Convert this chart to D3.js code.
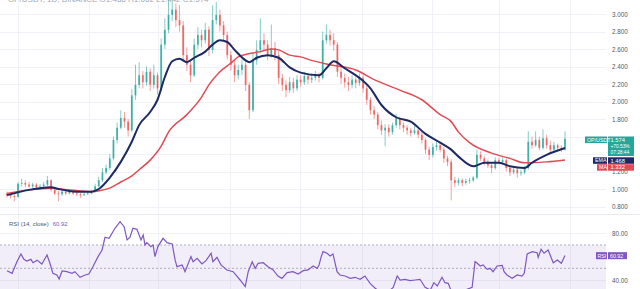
<!DOCTYPE html>
<html lang="en">
<head>
<meta charset="UTF-8">
<title>OP/USDT daily</title>
<script src="https://d3js.org/d3.v7.min.js"></script>
<style>
  body { margin: 0; background: #fff; }
  svg text { font-family: "Liberation Sans", "DejaVu Sans", sans-serif; }
</style>
</head>
<body>
<div id="chart"></div>
<script>
// candle data (daily) - open is taken as the previous close
const firstOpen = 0.95;
const closes = [
  0.93,0.92,0.91,1.06,1.07,1.05,1.03,1.05,1.02,1.03,
  1.05,1.10,0.99,0.95,0.94,0.97,0.95,0.98,0.95,0.94,
  0.93,0.94,0.95,0.97,1.03,1.10,1.19,1.24,1.35,1.56,
  1.70,1.81,1.77,1.67,2.07,2.19,2.30,2.22,2.34,2.19,
  2.30,2.15,2.65,2.82,2.99,3.05,2.93,2.87,2.53,2.42,
  2.30,2.65,2.76,2.70,2.82,2.59,2.93,2.99,2.87,2.76,
  2.53,2.42,2.30,2.36,2.42,2.19,1.90,2.47,2.59,2.70,
  2.65,2.53,2.61,2.53,2.27,2.19,2.13,2.22,2.15,2.25,
  2.22,2.29,2.25,2.27,2.30,2.27,2.70,2.76,2.70,2.65,
  2.34,2.27,2.22,2.19,2.25,2.21,2.27,2.15,2.02,1.90,
  1.85,1.73,1.67,1.70,1.65,1.73,1.81,1.73,1.70,1.67,
  1.64,1.67,1.62,1.56,1.45,1.39,1.48,1.50,1.45,1.35,
  1.31,1.10,1.07,1.10,1.07,1.09,1.10,1.13,1.39,1.35,
  1.31,1.27,1.24,1.33,1.31,1.33,1.24,1.19,1.22,1.18,
  1.19,1.24,1.54,1.50,1.56,1.47,1.58,1.50,1.45,1.50,
  1.47,1.45,1.574
];
const highs = [
  0.97,0.95,0.94,1.08,1.12,1.10,1.08,1.07,1.07,1.06,
  1.08,1.15,1.11,1.01,0.98,0.99,1.00,1.00,0.99,0.97,
  0.96,0.97,0.97,0.99,1.06,1.14,1.24,1.28,1.40,1.60,
  1.76,1.90,1.88,1.80,2.14,2.42,2.45,2.35,2.40,2.38,
  2.42,2.33,2.72,2.95,3.16,3.15,3.12,3.10,2.92,2.62,
  2.48,2.72,2.85,2.82,2.90,2.86,3.10,3.14,3.05,2.92,
  2.80,2.58,2.48,2.42,2.48,2.46,2.22,2.55,2.70,2.95,
  2.78,2.70,2.88,2.68,2.58,2.32,2.24,2.28,2.27,2.30,
  2.30,2.34,2.32,2.32,2.35,2.33,2.80,2.88,2.82,2.78,
  2.68,2.40,2.32,2.28,2.30,2.28,2.32,2.30,2.18,2.05,
  1.95,1.88,1.78,1.74,1.74,1.76,1.86,1.83,1.76,1.73,
  1.70,1.72,1.70,1.65,1.58,1.48,1.52,1.55,1.53,1.48,
  1.38,1.34,1.14,1.13,1.12,1.12,1.13,1.15,1.45,1.43,
  1.38,1.34,1.30,1.36,1.36,1.36,1.35,1.26,1.25,1.24,
  1.22,1.26,1.66,1.60,1.66,1.60,1.68,1.62,1.55,1.54,
  1.52,1.50,1.66
];
const lows = [
  0.90,0.89,0.86,0.90,1.03,1.02,1.01,1.01,1.00,1.00,
  1.01,1.03,0.97,0.93,0.86,0.92,0.93,0.94,0.93,0.92,
  0.90,0.92,0.93,0.94,0.96,1.02,1.08,1.17,1.22,1.33,
  1.52,1.68,1.70,1.60,1.65,2.02,2.15,2.15,2.18,2.12,
  2.15,2.08,2.12,2.60,2.78,2.92,2.85,2.80,2.45,2.35,
  2.22,2.28,2.60,2.62,2.66,2.52,2.55,2.88,2.80,2.70,
  2.48,2.35,2.22,2.25,2.30,2.12,1.80,1.88,2.42,2.55,
  2.58,2.47,2.50,2.47,2.20,2.12,2.05,2.10,2.10,2.12,
  2.17,2.19,2.20,2.21,2.24,2.22,2.25,2.66,2.64,2.58,
  2.28,2.20,2.16,2.12,2.15,2.15,2.18,2.10,1.96,1.85,
  1.80,1.68,1.62,1.49,1.60,1.62,1.70,1.68,1.65,1.62,
  1.60,1.62,1.58,1.52,1.40,1.33,1.36,1.44,1.42,1.30,
  1.26,0.87,1.02,1.04,1.03,1.05,1.06,1.08,1.11,1.32,
  1.27,1.24,1.18,1.22,1.28,1.29,1.20,1.15,1.17,1.13,
  1.15,1.17,1.22,1.46,1.48,1.44,1.45,1.46,1.42,1.43,
  1.44,1.42,1.44
];

// moving averages: [candle index, value]
const emaPts = [[0,0.93],[6,0.99],[12,1.02],[14,1.00],[19,0.97],[23,0.97],[25,1.00],[28,1.13],[31,1.31],[34,1.54],[36,1.73],[39,1.88],[41,2.02],[43,2.28],[45,2.46],[47,2.49],[49,2.45],[51,2.50],[54,2.57],[56,2.65],[58,2.70],[60,2.68],[62,2.59],[65,2.47],[66,2.45],[68,2.50],[71,2.53],[74,2.50],[77,2.39],[80,2.33],[85,2.30],[87,2.38],[89,2.46],[92,2.38],[96,2.27],[99,2.15],[102,1.96],[106,1.82],[110,1.77],[114,1.63],[118,1.53],[121,1.45],[123,1.37],[127,1.26],[128,1.27],[130,1.30],[134,1.30],[137,1.26],[141,1.24],[143,1.30],[147,1.39],[152,1.468]];
const maPts = [[0,0.95],[6,0.99],[12,1.01],[17,0.99],[23,0.97],[25,0.98],[28,1.01],[31,1.08],[34,1.15],[36,1.22],[39,1.33],[42,1.49],[44,1.65],[49,1.85],[53,2.05],[55,2.19],[58,2.34],[61,2.44],[63,2.51],[69,2.57],[72,2.60],[74,2.59],[77,2.53],[80,2.51],[83,2.47],[88,2.42],[95,2.36],[100,2.25],[107,2.13],[113,2.02],[118,1.85],[121,1.77],[123,1.65],[126,1.53],[132,1.41],[137,1.35],[141,1.30],[147,1.31],[152,1.332]];

// RSI(14): [candle index, value]
const rsiPts = [[0,48],[1.4,45.7],[2.7,55.7],[3.8,62.3],[4.6,57.7],[5.4,56.3],[6.5,57.7],[7.1,54.8],[8.2,57],[9.5,53.7],[10.9,61.4],[11.7,54.3],[12.5,45.7],[13.6,44.3],[14.2,40.9],[15,47.7],[16.3,47.1],[17.7,45.7],[18.5,47.1],[19.9,42.3],[21.3,44.3],[22.3,45.1],[23.4,51.4],[24.8,60],[25.9,65.7],[26.7,76.6],[27.8,75.7],[29.4,84.3],[30.8,90],[31.9,85.7],[32.7,74.3],[33.5,76.6],[34.3,84.3],[35.4,83.4],[36.5,74.3],[37.1,78.6],[37.6,70],[38.1,72],[39.2,68.6],[39.8,70],[40.3,60],[41.1,68.6],[42.5,75.7],[43.6,72],[45,70.9],[45.8,57],[46.3,51.4],[47.7,52.9],[48.5,47.1],[50.1,60],[50.7,55.7],[51.8,58.6],[53.1,53.7],[54.2,56.6],[55.6,62.9],[56.1,55.7],[57.2,59.4],[58.3,52.9],[59.9,48.6],[61.6,47.1],[63.5,40],[64.9,34.3],[65.7,47.1],[66.8,55.7],[67.6,50],[68.4,54.3],[69.8,54.8],[71.1,51.4],[72.5,48.6],[73.8,43.4],[74.9,41.4],[76.3,46.3],[77.9,47.1],[79.3,45.1],[80.7,48],[82,48.6],[83.4,52],[84.5,50],
  [85,52.9],[85.6,60],[86.1,64.3],[87.2,62.9],[88,60.6],[88.8,62.3],[89.9,47.1],[90.7,44.3],[92.1,43.4],[93.5,41.4],[94.8,42.3],[96.2,40.6],[97.5,43.4],[98.9,37.1],[100.3,32.9],[101.6,30],[103,30],[104.4,31.4],[105.2,33.7],[106.3,43.4],[107.1,40],[108.4,40.6],[109.8,39.4],[111.2,40],[112.5,40.6],[113.9,33.7],[115.3,31.4],[116.3,37.7],[117.2,34.9],[118.5,42.3],[119.3,37.7],[120.2,37.1],[121.3,28],[122.6,28],[124,30],[125.3,32],[126.7,33.7],[127.5,55.7],[128.1,54.3],[128.9,52],[129.7,52.9],[130.8,49.1],[131.6,50],[132.4,47.1],[133.5,52],[134.9,52.6],[135.4,47.1],[136.2,44.3],[137.6,41.4],[139,44.3],[140.3,43.4],[140.9,45.7],[141.7,62.3],[143.1,64.3],[144.4,63.4],[144.7,59.4],[145.5,66.3],[146.3,62.9],[147.4,65.7],[148.8,54.8],[149.9,57.1],[151,54.3],[152,60.92]];

// axis ticks and month grid (in candle index)
const priceTicks = [3.0, 2.8, 2.6, 2.4, 2.2, 2.0, 1.8, 1.6, 1.4, 1.2, 1.0, 0.8];
const hiddenTicks = [1.6, 1.4];   // sit under the price / EMA tags
const rsiTicks = [80, 40];
const rsiBands = [70, 50, 30];
const monthGrid = [3, 22.3, 41.2, 60.8, 79.8, 96.7, 115.8, 134, 153.4];

const W = 640, H = 289, plotRight = 606, paneSplit = 214;
const up = "#26a69a", down = "#ef5350";

const svg = d3.select("#chart").append("svg")
  .attr("width", W).attr("height", H);

const defs = svg.append("defs");
defs.append("clipPath").attr("id", "clipPrice")
  .append("rect").attr("x", 0).attr("y", 0).attr("width", plotRight).attr("height", paneSplit);
defs.append("clipPath").attr("id", "clipRsi")
  .append("rect").attr("x", 0).attr("y", paneSplit).attr("width", plotRight).attr("height", H - paneSplit);

const x = d3.scaleLinear().domain([0, closes.length - 1]).range([7, 565]);
const y = d3.scaleLinear().domain([0.8, 3.0]).range([206.5, 14]);
const yr = d3.scaleLinear().domain([40, 80]).range([280, 233.3]);

// grid
const grid = svg.append("g").attr("stroke", "#f0f2f7").attr("stroke-width", 1);
grid.selectAll(".gx").data(monthGrid).enter().append("line")
  .attr("x1", d => Math.round(x(d)) + 0.5).attr("x2", d => Math.round(x(d)) + 0.5)
  .attr("y1", 0).attr("y2", H);
grid.selectAll(".gy").data(priceTicks).enter().append("line")
  .attr("x1", 0).attr("x2", plotRight)
  .attr("y1", d => Math.round(y(d)) + 0.5).attr("y2", d => Math.round(y(d)) + 0.5);
grid.selectAll(".gr").data(rsiTicks).enter().append("line")
  .attr("x1", 0).attr("x2", plotRight)
  .attr("y1", d => Math.round(yr(d)) + 0.5).attr("y2", d => Math.round(yr(d)) + 0.5);

// pane divider
svg.append("line").attr("x1", 0).attr("x2", W)
  .attr("y1", paneSplit + 0.5).attr("y2", paneSplit + 0.5)
  .attr("stroke", "#e9ebf0");

// title (cut off at the top, as in the screenshot)
svg.append("text").attr("x", 8).attr("y", 2)
  .attr("font-size", 8).attr("fill", "#a3a8b2")
  .text("OP/USDT, 1D, BINANCE  O1.468 H1.662 L1.442 C1.574");

// candles
const candles = closes.map((c, i) => ({
  i: i, o: i ? closes[i - 1] : firstOpen, c: c, h: highs[i], l: lows[i]
}));
const pricePane = svg.append("g").attr("clip-path", "url(#clipPrice)");
const cg = pricePane.append("g");
cg.selectAll(".wick").data(candles).enter().append("line")
  .attr("x1", d => x(d.i)).attr("x2", d => x(d.i))
  .attr("y1", d => y(d.h)).attr("y2", d => y(d.l))
  .attr("stroke", d => d.c >= d.o ? up : down)
  .attr("stroke-opacity", 0.7).attr("stroke-width", 0.8);
cg.selectAll(".body").data(candles).enter().append("rect")
  .attr("x", d => x(d.i) - 0.9).attr("width", 1.8)
  .attr("y", d => y(Math.max(d.o, d.c)))
  .attr("height", d => Math.max(0.8, Math.abs(y(d.o) - y(d.c))))
  .attr("fill", d => d.c >= d.o ? up : down)
  .attr("fill-opacity", 0.8);

// MA and EMA
const ln = d3.line().x(d => x(d[0])).y(d => y(d[1])).curve(d3.curveMonotoneX);
pricePane.append("path").datum(maPts).attr("d", ln)
  .attr("fill", "none").attr("stroke", "#e04b55").attr("stroke-width", 1.5);
pricePane.append("path").datum(emaPts).attr("d", ln)
  .attr("fill", "none").attr("stroke", "#1c2a63").attr("stroke-width", 2);

// price scale
const fmtP = d3.format(".3f");
svg.append("g").attr("transform", "translate(610,0)")
  .call(d3.axisRight(y).tickValues(priceTicks.filter(v => !hiddenTicks.includes(v)))
    .tickFormat(fmtP).tickSize(0).tickPadding(2))
  .call(g => g.select(".domain").remove())
  .selectAll("text").attr("font-size", 6.3).attr("fill", "#555a66");

// RSI pane
const rsiPane = svg.append("g").attr("clip-path", "url(#clipRsi)");
rsiPane.append("rect").attr("x", 0).attr("width", plotRight)
  .attr("y", yr(70)).attr("height", yr(30) - yr(70))
  .attr("fill", "#7e57c2").attr("fill-opacity", 0.1);
rsiPane.selectAll(".band").data(rsiBands).enter().append("line")
  .attr("x1", 0).attr("x2", plotRight)
  .attr("y1", d => yr(d)).attr("y2", d => yr(d))
  .attr("stroke", "#9c9aab").attr("stroke-dasharray", "2,2").attr("stroke-width", 0.8);
rsiPane.append("path").datum(rsiPts)
  .attr("d", d3.line().x(d => x(d[0])).y(d => yr(d[1])))
  .attr("fill", "none").attr("stroke", "#7e57c2").attr("stroke-width", 1.2);

svg.append("g").attr("transform", "translate(610,0)")
  .call(d3.axisRight(yr).tickValues(rsiTicks).tickFormat(d3.format(".2f")).tickSize(0).tickPadding(2))
  .call(g => g.select(".domain").remove())
  .selectAll("text").attr("font-size", 6.3).attr("fill", "#555a66");

// RSI legend
const leg = svg.append("text").attr("x", 9).attr("y", 226).attr("font-size", 6);
leg.append("tspan").attr("fill", "#555a66").text("RSI (14, close)");
leg.append("tspan").attr("fill", "#7e57c2").attr("dx", 4).text("60.92");

// right side labels
function tag(yc, h, leftH, leftText, leftX, color, lines) {
  const g = svg.append("g");
  g.append("rect").attr("x", leftX).attr("y", yc).attr("width", 607 - leftX).attr("height", leftH)
    .attr("fill", color);
  g.append("rect").attr("x", 608).attr("y", yc).attr("width", 26).attr("height", h)
    .attr("fill", color);
  g.append("text").attr("x", leftX + 2).attr("y", yc + 5).attr("font-size", 5.3)
    .attr("fill", "#fff").text(leftText);
  lines.forEach((t, k) => {
    g.append("text").attr("x", 610.5).attr("y", yc + 5.2 + k * 6.3)
      .attr("font-size", k ? 4.8 : 5.8).attr("fill", "#fff").text(t);
  });
}
tag(136.5, 19.5, 6.6, "OP/USDT", 585, up, ["1.574", "+70.53%", "07:28:44"]);
tag(157.3, 6.5, 6.5, "EMA", 593, "#1c2a63", ["1.468"]);
tag(164.2, 6.5, 6.5, "MA", 597, "#e04b55", ["1.332"]);

// RSI value tag
const rv = rsiPts[rsiPts.length - 1][1];
const rt = svg.append("g");
rt.append("rect").attr("x", 596).attr("y", yr(rv) - 3.4).attr("width", 11).attr("height", 7).attr("fill", "#7e57c2");
rt.append("rect").attr("x", 608).attr("y", yr(rv) - 3.4).attr("width", 19).attr("height", 7).attr("fill", "#7e57c2");
rt.append("text").attr("x", 597.5).attr("y", yr(rv) + 2).attr("font-size", 5.3).attr("fill", "#fff").text("RSI");
rt.append("text").attr("x", 610).attr("y", yr(rv) + 2).attr("font-size", 5.3).attr("fill", "#fff").text(d3.format(".2f")(rv));
</script>
</body>
</html>
